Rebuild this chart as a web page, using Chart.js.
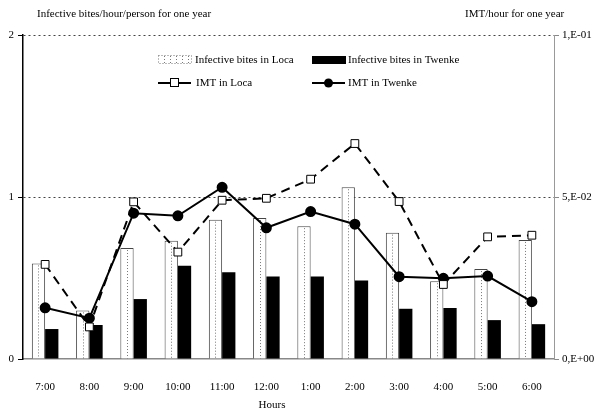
<!DOCTYPE html>
<html>
<head>
<meta charset="utf-8">
<script src="https://cdn.jsdelivr.net/npm/chart.js@4/dist/chart.umd.min.js"></script>
<style>
  html, body { margin: 0; padding: 0; background: #fff; }
  #wrap { width: 600px; height: 418px; position: relative; }
</style>
</head>
<body>
<div id="wrap"><canvas id="hoursChart"></canvas></div>
<script>
"use strict";
// data
var hours = ["7:00", "8:00", "9:00", "10:00", "11:00", "12:00", "1:00", "2:00", "3:00", "4:00", "5:00", "6:00"];
var bitesLoca = [0.59, 0.30, 0.685, 0.73, 0.86, 0.87, 0.82, 1.06, 0.78, 0.48, 0.555, 0.735];
var bitesTwenke = [0.185, 0.21, 0.37, 0.575, 0.535, 0.51, 0.51, 0.485, 0.31, 0.315, 0.24, 0.215];
var imtLoca = [0.0292, 0.0099, 0.0485, 0.033, 0.049, 0.0496, 0.0555, 0.0665, 0.0486, 0.023, 0.0377, 0.0382];
var imtTwenke = [0.0158, 0.0126, 0.045, 0.0442, 0.053, 0.0405, 0.0455, 0.0416, 0.0254, 0.0249, 0.0256, 0.0177];
var leftTicks = [0, 1, 2];
var rightTicks = [0, 0.05, 0.1];

var FONT = "'Liberation Serif', 'Times New Roman', serif";

function sciLabel(v) {
    var s = Number(v).toExponential(0); // e.g. "5e-2"
    var parts = s.split("e");
    var exp = parseInt(parts[1], 10);
    var sign = exp < 0 ? "-" : "+";
    var a = Math.abs(exp);
    return parts[0] + ",E" + sign + (a < 10 ? "0" + a : a);
}

// titles, legend and the dotted line inside the Loca bars
var extras = {
    id: "extras",
    afterDatasetDraw: function (chart, args) {
        if (args.index !== 0) return;
        var ctx = chart.ctx;
        var meta = chart.getDatasetMeta(0);
        ctx.save();
        ctx.strokeStyle = "#777";
        ctx.lineWidth = 1;
        ctx.setLineDash([1, 2]);
        meta.data.forEach(function (bar) {
            var x = Math.round(bar.x) + 0.5;
            ctx.beginPath();
            ctx.moveTo(x, bar.y + 2);
            ctx.lineTo(x, bar.base);
            ctx.stroke();
        });
        ctx.restore();
    },
    afterDraw: function (chart) {
        var ctx = chart.ctx;
        ctx.save();
        ctx.fillStyle = "#000";
        ctx.font = "11px " + FONT;
        ctx.textBaseline = "middle";
        ctx.textAlign = "left";
        ctx.fillText("Infective bites/hour/person for one year", 37, 14);
        ctx.fillText("IMT/hour for one year", 465, 14);
        ctx.textAlign = "center";
        ctx.fillText("Hours", 272, 405);

        // legend
        ctx.textAlign = "left";
        var r1 = 60, r2 = 83;
        // Loca bar swatch
        ctx.fillStyle = "#fff";
        ctx.fillRect(158, r1 - 4, 34, 8);
        ctx.strokeStyle = "#777";
        ctx.lineWidth = 1;
        ctx.setLineDash([1, 2]);
        ctx.strokeRect(158.5, r1 - 4.5, 33, 8);
        ctx.beginPath();
        for (var sx = 164.5; sx < 192; sx += 6) {
            ctx.moveTo(sx, r1 - 4);
            ctx.lineTo(sx, r1 + 4);
        }
        ctx.stroke();
        ctx.setLineDash([]);
        ctx.fillStyle = "#000";
        ctx.fillText("Infective bites in Loca", 195, r1);
        // Twenke bar swatch
        ctx.fillRect(312, r1 - 4, 34, 8);
        ctx.fillText("Infective bites in Twenke", 348, r1);
        // IMT Loca
        ctx.strokeStyle = "#000";
        ctx.lineWidth = 2;
        ctx.beginPath();
        ctx.moveTo(158, r2);
        ctx.lineTo(191, r2);
        ctx.stroke();
        ctx.fillStyle = "#fff";
        ctx.lineWidth = 1;
        ctx.fillRect(170, r2 - 4, 9, 9);
        ctx.strokeRect(170.5, r2 - 4.5, 8, 8);
        ctx.fillStyle = "#000";
        ctx.fillText("IMT in Loca", 196, r2);
        // IMT Twenke
        ctx.lineWidth = 2;
        ctx.beginPath();
        ctx.moveTo(312, r2);
        ctx.lineTo(345, r2);
        ctx.stroke();
        ctx.beginPath();
        ctx.arc(328.5, r2, 4.5, 0, Math.PI * 2);
        ctx.fill();
        ctx.fillText("IMT in Twenke", 348, r2);
        ctx.restore();
    }
};

var ctx = document.getElementById("hoursChart");
var hoursChart = new Chart(ctx, {
    data: {
        labels: hours,
        datasets: [{
            type: "bar",
            label: "Infective bites in Loca",
            data: bitesLoca,
            backgroundColor: "#fff",
            borderColor: "#444",
            borderWidth: 1,
            yAxisID: "y",
            order: 2,
            categoryPercentage: 0.6,
            barPercentage: 1.0
        }, {
            type: "bar",
            label: "Infective bites in Twenke",
            data: bitesTwenke,
            backgroundColor: "#000",
            borderWidth: 0,
            yAxisID: "y",
            order: 2,
            categoryPercentage: 0.6,
            barPercentage: 1.0
        }, {
            type: "line",
            label: "IMT in Loca",
            data: imtLoca,
            borderColor: "#000",
            borderWidth: 2,
            borderDash: [9, 6],
            tension: 0,
            pointStyle: "rect",
            pointRadius: 5.5,
            pointBackgroundColor: "#fff",
            pointBorderColor: "#000",
            pointBorderWidth: 1,
            yAxisID: "y1",
            order: 0
        }, {
            type: "line",
            label: "IMT in Twenke",
            data: imtTwenke,
            borderColor: "#000",
            borderWidth: 2,
            tension: 0,
            pointStyle: "circle",
            pointRadius: 4.5,
            pointBackgroundColor: "#000",
            pointBorderColor: "#000",
            yAxisID: "y1",
            order: 1
        }]
    },
    options: {
        responsive: true,
        maintainAspectRatio: false,
        animation: false,
        layout: { padding: { top: 35, left: 0, right: 0, bottom: 0 } },
        plugins: {
            legend: { display: false },
            tooltip: { enabled: false }
        },
        scales: {
            x: {
                grid: { display: false },
                border: { display: true, color: "#888", width: 1.5 },
                ticks: {
                    color: "#000",
                    font: { family: FONT, size: 11 },
                    padding: 14,
                    maxRotation: 0
                },
                afterFit: function (scale) { scale.height = 59; }
            },
            y: {
                position: "left",
                min: 0,
                max: 2,
                afterBuildTicks: function (scale) {
                    scale.ticks = leftTicks.map(function (v) { return { value: v }; });
                },
                grid: {
                    color: function (c) { return c.tick && c.tick.value === 0 ? "rgba(0,0,0,0)" : "#444"; },
                    tickColor: "#000",
                    tickLength: 5,
                    tickBorderDash: [],
                    lineWidth: 1
                },
                border: { display: true, color: "#000", width: 1.5, dash: [2, 3] },
                ticks: {
                    color: "#000",
                    font: { family: FONT, size: 11 },
                    padding: 4
                },
                afterFit: function (scale) { scale.width = 23; }
            },
            y1: {
                position: "right",
                min: 0,
                max: 0.1,
                afterBuildTicks: function (scale) {
                    scale.ticks = rightTicks.map(function (v) { return { value: v }; });
                },
                grid: {
                    drawOnChartArea: false,
                    tickColor: "#888",
                    tickLength: 5
                },
                border: { display: true, color: "#999", width: 1 },
                ticks: {
                    color: "#000",
                    font: { family: FONT, size: 11 },
                    padding: 3,
                    callback: function (v) { return sciLabel(v); }
                },
                afterFit: function (scale) { scale.width = 46; }
            }
        }
    },
    plugins: [extras]
});
</script>
</body>
</html>
